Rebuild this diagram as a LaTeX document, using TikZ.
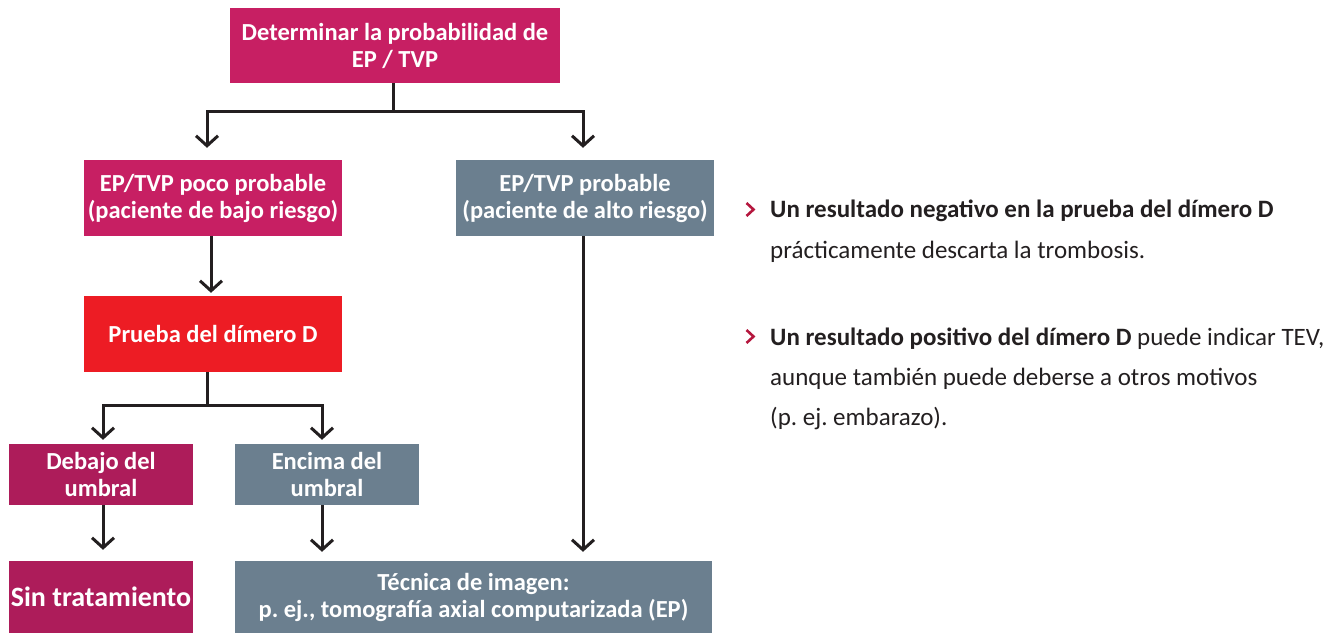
\documentclass[tikz,border=0pt]{standalone}
\usepackage{fontspec}
\setmainfont{Carlito}
\usetikzlibrary{arrows.meta}
\frenchspacing
\definecolor{mag}{HTML}{C71F63}
\definecolor{dmag}{HTML}{AD1C5A}
\definecolor{red1}{HTML}{ED1C24}
\definecolor{gry}{HTML}{6B7F8F}
\definecolor{ink}{HTML}{231F20}
\definecolor{bul}{HTML}{B5173E}
\tikzset{
  box/.style={rectangle, inner sep=0pt, text=white, align=center, font=\fontsize{24.5}{27}\selectfont\bfseries},
  conn/.style={draw=ink, line width=3pt},
  arr/.style={conn, -{Straight Barb[length=10pt,width=22pt,line width=3pt]}},
  txt/.style={anchor=base west, inner sep=0pt, text=ink, font=\fontsize{25}{30}\selectfont},
  chev/.style={draw=bul, line width=2.6pt, line cap=butt, line join=miter}
}
\begin{document}
\begin{tikzpicture}[x=1pt,y=-1pt]
\useasboundingbox (0,0) rectangle (1336,633);
\node[box, fill=mag, minimum width=330pt, minimum height=75pt] (top) at (395,45.5) {Determinar la probabilidad de\\EP / TVP};
\node[box, fill=mag, minimum width=258pt, minimum height=76pt] (poco) at (213,198) {EP/TVP poco probable\\(paciente de bajo riesgo)};
\node[box, fill=gry, minimum width=258pt, minimum height=76pt] (prob) at (585,198) {EP/TVP probable\\(paciente de alto riesgo)};
\node[box, fill=red1, minimum width=258pt, minimum height=76pt] (dd) at (213,334) {Prueba del dímero D};
\node[box, fill=dmag, minimum width=184pt, minimum height=61pt] (deb) at (101,474.5) {Debajo del\\umbral};
\node[box, fill=gry, minimum width=184pt, minimum height=61pt] (enc) at (327,474.5) {Encima del\\umbral};
\node[box, fill=dmag, minimum width=184pt, minimum height=72pt, font=\fontsize{28}{32}\selectfont\bfseries] (sin) at (101,597) {Sin tratamiento};
\node[box, fill=gry, minimum width=477pt, minimum height=72pt] (tec) at (473.5,597) {Técnica de imagen:\\p. ej., tomografía axial computarizada (EP)};

% connectors
\coordinate (j1) at (393,111);
\draw[conn] ([xshift=-2pt]top.south) -- (j1);
\draw[arr] (j1) -| ([xshift=-6pt,yshift=12pt]poco.north);
\draw[arr] (j1) -| ([xshift=-2pt,yshift=12pt]prob.north);
\draw[arr] ([xshift=-2pt]poco.south) -- ([xshift=-2pt,yshift=3pt]dd.north);
\coordinate (j2) at (207,405);
\draw[conn] ([xshift=-6pt]dd.south) -- (j2);
\draw[arr] (j2) -| ([xshift=2pt,yshift=4pt]deb.north);
\draw[arr] (j2) -| ([xshift=-5pt,yshift=4pt]enc.north);
\draw[arr] ([xshift=2pt]deb.south) -- ([xshift=2pt,yshift=11pt]sin.north);
\draw[arr] ([xshift=-5pt]enc.south) -- ([xshift=-5pt,yshift=9pt]enc.south |- tec.north);
\draw[arr] ([xshift=-2pt]prob.south) -- ([xshift=-2pt,yshift=9pt]prob.south |- tec.north);

% right text
\draw[chev] (746.5,203) -- (753.5,209.5) -- (746.5,216);
\node[txt] (t1) at (770,217) {\bfseries Un resultado negativo en la prueba del dímero D};
\node[txt] (t2) at (770,258) {prácticamente descarta la trombosis.};
\draw[chev] (746.5,330) -- (753.5,336.5) -- (746.5,343);
\node[txt] (t3) at (770,345) {\bfseries Un resultado positivo del dímero D\mdseries{} puede indicar TEV,};
\node[txt] (t4) at (770,385) {aunque también puede deberse a otros motivos};
\node[txt] (t5) at (770,425) {(p. ej. embarazo).};
\end{tikzpicture}
\end{document}
